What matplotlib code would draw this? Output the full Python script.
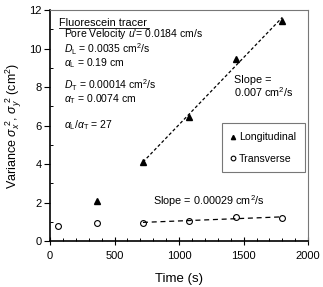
import matplotlib
matplotlib.use("Agg")
import matplotlib.pyplot as plt
import numpy as np
from matplotlib.ticker import MultipleLocator

plt.rcParams['font.family'] = ['Liberation Sans', 'DejaVu Sans']
plt.rcParams['mathtext.fontset'] = 'custom'
plt.rcParams['mathtext.rm'] = 'Liberation Sans'
plt.rcParams['mathtext.it'] = 'Liberation Sans:italic'

# dados
tempo_long = [360, 720, 1080, 1440, 1800]
var_long = [2.1, 4.1, 6.45, 9.45, 11.45]
tempo_trans = [60, 360, 720, 1080, 1440, 1800]
var_trans = [0.78, 0.95, 0.95, 1.05, 1.26, 1.2]

fig = plt.figure(figsize=(3.23, 2.87), dpi=100)
ax = fig.add_axes([0.155, 0.160, 0.799, 0.805])

ax.plot(tempo_long, var_long, '^', color='black', markersize=3.8, label='Longitudinal')
ax.plot(tempo_trans, var_trans, 'o', mfc='white', mec='black', mew=0.8,
        markersize=4.2, label='Transverse')

# retas ajustadas (a partir de 720 s)
tl = np.array(tempo_long[1:])
a, b = np.polyfit(tl, var_long[1:], 1)
ax.plot([tl[0], tl[-1]], [a * tl[0] + b, a * tl[-1] + b], color='black',
        linestyle=(0, (2.5, 1.8)), linewidth=0.9)
tt = np.array(tempo_trans[2:])
c, d = np.polyfit(tt, var_trans[2:], 1)
ax.plot([tt[0], tt[-1]], [c * tt[0] + d, c * tt[-1] + d], color='black',
        linestyle=(0, (4, 3)), linewidth=0.9)

ax.set_xlim(0, 2000)
ax.set_ylim(0, 12)
ax.xaxis.set_major_locator(MultipleLocator(500))
ax.xaxis.set_minor_locator(MultipleLocator(100))
ax.yaxis.set_major_locator(MultipleLocator(2))
ax.yaxis.set_minor_locator(MultipleLocator(1))
ax.tick_params(which='major', direction='out', length=4, width=0.8, labelsize=8, pad=2)
ax.tick_params(which='minor', direction='in', length=2.5, width=0.7)
ax.tick_params(axis='x', which='major', direction='inout', length=6, pad=4)
for s in ['top', 'right']:
    ax.spines[s].set_color('#777777')
    ax.spines[s].set_linewidth(0.8)
for s in ['left', 'bottom']:
    ax.spines[s].set_linewidth(1.2)

ax.set_xlabel('Time (s)', fontsize=9.5, labelpad=9)
ax.set_ylabel(r'Variance $\sigma_x^{\ 2}$, $\sigma_y^{\ 2}$ (cm$^2$)', fontsize=9, labelpad=4)

fs = 7.5
ax.text(72, 11.15, 'Fluorescein tracer', fontsize=fs + 0.3, va='baseline', ha='left')
ax.plot([72, 765], [11.08, 11.08], color='black', linewidth=0.6)
ax.text(111, 10.6, "Pore Velocity $\\it{u}$'= 0.0184 cm/s", fontsize=fs, va='baseline')
ax.text(111, 9.78, r'$\it{D}_\mathrm{L}$ = 0.0035 cm$^2$/s', fontsize=fs, va='baseline')
ax.text(111, 9.08, r'$\it{\alpha}_\mathrm{L}$ = 0.19 cm', fontsize=fs, va='baseline')
ax.text(111, 7.9, r'$\it{D}_\mathrm{T}$ = 0.00014 cm$^2$/s', fontsize=fs, va='baseline')
ax.text(111, 7.2, r'$\it{\alpha}_\mathrm{T}$ = 0.0074 cm', fontsize=fs, va='baseline')
ax.text(111, 5.87, r'$\it{\alpha}_\mathrm{L}/\it{\alpha}_\mathrm{T}$ = 27', fontsize=fs, va='baseline')

ax.text(1426, 8.2, 'Slope =', fontsize=fs + 0.3, va='baseline')
ax.text(1426, 7.5, '0.007 cm$^2$/s', fontsize=fs + 0.3, va='baseline')
ax.text(795, 1.87, 'Slope = 0.00029 cm$^2$/s', fontsize=fs + 0.3, va='baseline')

leg = ax.legend(loc='upper left', bbox_to_anchor=(0.645, 0.532), fontsize=7.6,
                fancybox=False, edgecolor='#555555', handlelength=0.5,
                handletextpad=0.3, labelspacing=1.05, borderpad=0.85, markerscale=0.8)
leg.get_frame().set_linewidth(0.8)

plt.savefig('out.png', dpi=100)
